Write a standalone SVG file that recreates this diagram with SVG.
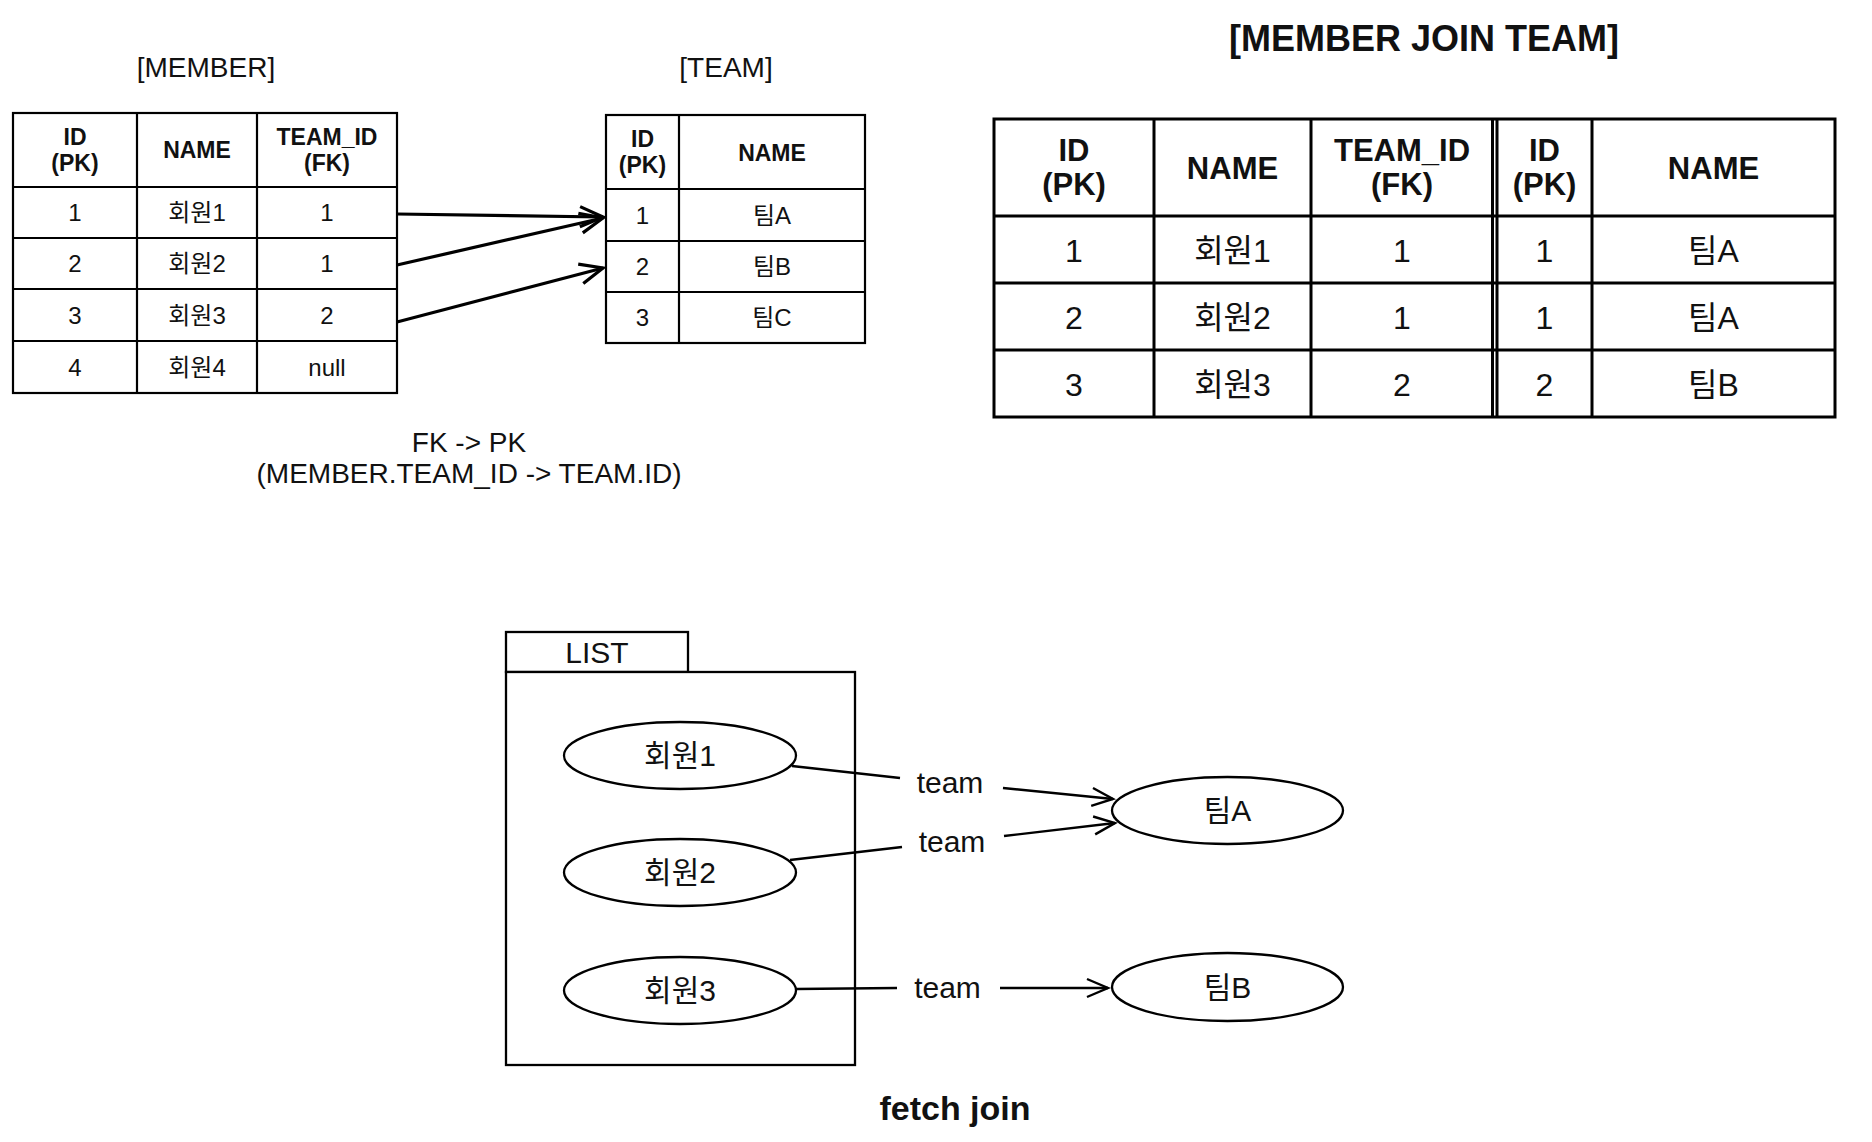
<svg xmlns="http://www.w3.org/2000/svg" width="1872" height="1142" viewBox="0 0 1872 1142">
<style>
  text { font-family: "Liberation Sans", "Noto Sans CJK KR", sans-serif; fill: #111; text-anchor: middle; }
  .title { font-size: 28px; }
  .jtitle { font-size: 36px; font-weight: bold; }
  .mh { font-size: 23px; font-weight: bold; }
  .md { font-size: 24px; }
  .jh { font-size: 31px; font-weight: bold; }
  .jd { font-size: 32px; }
  .lbl { font-size: 30px; }
  .fj { font-size: 34px; font-weight: bold; }
  .grid { stroke: #000; stroke-width: 2.2; fill: none; }
  .jgrid { stroke: #000; stroke-width: 3; fill: none; }
  .box { stroke: #000; stroke-width: 2.3; fill: #fff; }
  .conn { stroke: #000; fill: none; }
  .thick { stroke-width: 3.2; }
  .thin { stroke-width: 2.4; }
</style>
<defs>
  <marker id="arrowTop" viewBox="-26 -13 30 26" refX="0" refY="0" markerWidth="30" markerHeight="26" markerUnits="userSpaceOnUse" orient="auto">
    <path d="M-23,-10 L0,0 L-23,10" fill="none" stroke="#000" stroke-width="3.2"/>
  </marker>
  <marker id="arrowBot" viewBox="-24 -12 28 24" refX="0" refY="0" markerWidth="28" markerHeight="24" markerUnits="userSpaceOnUse" orient="auto">
    <path d="M-21,-9 L0,0 L-21,9" fill="none" stroke="#000" stroke-width="2.4"/>
  </marker>
</defs>
<rect width="1872" height="1142" fill="#fff"/>

<g id="labels">
  <text class="title" x="206" y="77">[MEMBER]</text>
  <text class="title" x="726" y="77">[TEAM]</text>
  <text class="jtitle" x="1424" y="51">[MEMBER JOIN TEAM]</text>
  <text class="title" x="469" y="452">FK -&gt; PK</text>
  <text class="title" x="469" y="483">(MEMBER.TEAM_ID -&gt; TEAM.ID)</text>
  <text class="fj" x="955" y="1120">fetch join</text>
</g>

<g id="member-table">
  <rect class="grid" x="13" y="113" width="384" height="280" fill="#fff"/>
  <path class="grid" d="M137,113 V393 M257,113 V393 M13,187 H397 M13,238 H397 M13,289 H397 M13,341 H397"/>
  <text class="mh" x="75" y="145">ID</text>
  <text class="mh" x="75" y="171">(PK)</text>
  <text class="mh" x="197" y="158">NAME</text>
  <text class="mh" x="327" y="145">TEAM_ID</text>
  <text class="mh" x="327" y="171">(FK)</text>
  <text class="md" x="75" y="221">1</text>
  <text class="md" x="197" y="221">회원1</text>
  <text class="md" x="327" y="221">1</text>
  <text class="md" x="75" y="272">2</text>
  <text class="md" x="197" y="272">회원2</text>
  <text class="md" x="327" y="272">1</text>
  <text class="md" x="75" y="323.5">3</text>
  <text class="md" x="197" y="323.5">회원3</text>
  <text class="md" x="327" y="323.5">2</text>
  <text class="md" x="75" y="375.5">4</text>
  <text class="md" x="197" y="375.5">회원4</text>
  <text class="md" x="327" y="375.5">null</text>
</g>

<g id="team-table">
  <rect class="grid" x="606" y="115" width="259" height="228" fill="#fff"/>
  <path class="grid" d="M679,115 V343 M606,189 H865 M606,241 H865 M606,292 H865"/>
  <text class="mh" x="642.5" y="147">ID</text>
  <text class="mh" x="642.5" y="173">(PK)</text>
  <text class="mh" x="772" y="161">NAME</text>
  <text class="md" x="642.5" y="223.5">1</text>
  <text class="md" x="772" y="223.5">팀A</text>
  <text class="md" x="642.5" y="275">2</text>
  <text class="md" x="772" y="275">팀B</text>
  <text class="md" x="642.5" y="326">3</text>
  <text class="md" x="772" y="326">팀C</text>
</g>

<g id="join-table">
  <rect class="jgrid" x="994" y="119" width="841" height="298" fill="#fff"/>
  <path class="jgrid" d="M1154,119 V417 M1311,119 V417 M1492.5,119 V417 M1497,119 V417 M1592,119 V417 M994,216 H1835 M994,283 H1835 M994,350 H1835"/>
  <text class="jh" x="1074" y="161">ID</text>
  <text class="jh" x="1074" y="195">(PK)</text>
  <text class="jh" x="1232.5" y="179">NAME</text>
  <text class="jh" x="1402" y="161">TEAM_ID</text>
  <text class="jh" x="1402" y="195">(FK)</text>
  <text class="jh" x="1544.5" y="161">ID</text>
  <text class="jh" x="1544.5" y="195">(PK)</text>
  <text class="jh" x="1713.5" y="179">NAME</text>
  <text class="jd" x="1074" y="261.5">1</text>
  <text class="jd" x="1232.5" y="261.5">회원1</text>
  <text class="jd" x="1402" y="261.5">1</text>
  <text class="jd" x="1544.5" y="261.5">1</text>
  <text class="jd" x="1713.5" y="261.5">팀A</text>
  <text class="jd" x="1074" y="328.5">2</text>
  <text class="jd" x="1232.5" y="328.5">회원2</text>
  <text class="jd" x="1402" y="328.5">1</text>
  <text class="jd" x="1544.5" y="328.5">1</text>
  <text class="jd" x="1713.5" y="328.5">팀A</text>
  <text class="jd" x="1074" y="395.5">3</text>
  <text class="jd" x="1232.5" y="395.5">회원3</text>
  <text class="jd" x="1402" y="395.5">2</text>
  <text class="jd" x="1544.5" y="395.5">2</text>
  <text class="jd" x="1713.5" y="395.5">팀B</text>
</g>

<g id="list-container">
  <rect class="box" x="506" y="632" width="182" height="40"/>
  <rect class="box" x="506" y="672" width="349" height="393"/>
  <text class="lbl" x="597" y="663">LIST</text>
</g>

<g id="member1">
  <ellipse class="box" cx="680" cy="755.5" rx="116" ry="33.5"/>
  <text class="lbl" x="680" y="766">회원1</text>
</g>
<g id="member2">
  <ellipse class="box" cx="680" cy="872.5" rx="116" ry="33.5"/>
  <text class="lbl" x="680" y="883">회원2</text>
</g>
<g id="member3">
  <ellipse class="box" cx="680" cy="990.5" rx="116" ry="33.5"/>
  <text class="lbl" x="680" y="1001">회원3</text>
</g>
<g id="teamA">
  <ellipse class="box" cx="1227.5" cy="810.5" rx="115.5" ry="33.5"/>
  <text class="lbl" x="1227.5" y="821">팀A</text>
</g>
<g id="teamB">
  <ellipse class="box" cx="1227.5" cy="987" rx="115.5" ry="34"/>
  <text class="lbl" x="1227.5" y="998">팀B</text>
</g>

<g id="connectors">
  <line class="conn thick" x1="397" y1="214" x2="603" y2="217" marker-end="url(#arrowTop)"/>
  <line class="conn thick" x1="397" y1="265" x2="603" y2="218" marker-end="url(#arrowTop)"/>
  <line class="conn thick" x1="397" y1="322" x2="603" y2="268" marker-end="url(#arrowTop)"/>

  <line class="conn thin" x1="792" y1="766" x2="900" y2="778"/>
  <line class="conn thin" x1="1003" y1="788" x2="1113" y2="799" marker-end="url(#arrowBot)"/>
  <text class="lbl" x="950" y="793">team</text>

  <line class="conn thin" x1="790" y1="860" x2="902" y2="847"/>
  <line class="conn thin" x1="1004" y1="836" x2="1115" y2="823" marker-end="url(#arrowBot)"/>
  <text class="lbl" x="952" y="852">team</text>

  <line class="conn thin" x1="796" y1="989" x2="897" y2="988"/>
  <line class="conn thin" x1="1000" y1="988" x2="1108" y2="988" marker-end="url(#arrowBot)"/>
  <text class="lbl" x="947.5" y="998">team</text>
</g>
</svg>
